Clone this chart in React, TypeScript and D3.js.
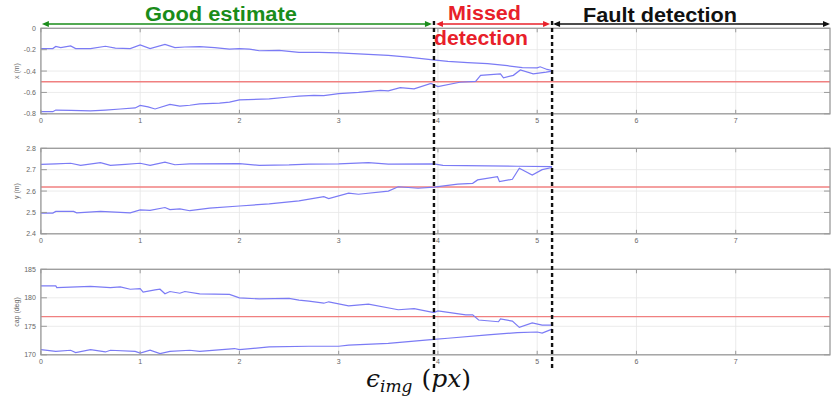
import React from "react";
import * as d3 from "d3";

// ---------- data ----------
const xTicks = [0, 1, 2, 3, 4, 5, 6, 7];
const xDomain: [number, number] = [0, 7.95];
const boundaries = [3.96, 5.15];

// panel 1: x (m)
const p1YTicks = [0, -0.2, -0.4, -0.6, -0.8];
const p1TickLabels = ["0", "-0.2", "-0.4", "-0.6", "-0.8"];
const p1Ref = -0.5;
const p1UpperX = [0, 0.12, 0.15, 0.2, 0.3, 0.35, 0.5, 0.65, 0.75, 0.9, 1.0, 1.1, 1.25, 1.35, 1.45, 1.6, 1.75, 1.9, 2.0, 2.1, 2.2, 2.4, 2.6, 2.8, 3.0, 3.2, 3.5, 3.7, 3.95, 4.1, 4.3, 4.5, 4.7, 4.85, 5.0, 5.03, 5.1, 5.15];
const p1UpperY = [-0.19, -0.19, -0.17, -0.18, -0.165, -0.19, -0.19, -0.168, -0.185, -0.19, -0.155, -0.19, -0.15, -0.18, -0.175, -0.172, -0.18, -0.195, -0.19, -0.195, -0.21, -0.207, -0.225, -0.225, -0.23, -0.24, -0.254, -0.27, -0.295, -0.31, -0.322, -0.33, -0.35, -0.368, -0.37, -0.36, -0.385, -0.395];
const p1LowerX = [0, 0.12, 0.15, 0.3, 0.5, 0.65, 0.8, 0.95, 1.0, 1.08, 1.15, 1.3, 1.4, 1.5, 1.6, 1.8, 1.9, 2.0, 2.3, 2.5, 2.6, 2.75, 2.85, 3.0, 3.2, 3.42, 3.5, 3.62, 3.76, 3.93, 4.0, 4.22, 4.38, 4.43, 4.63, 4.66, 4.76, 4.83, 4.96, 5.09, 5.15];
const p1LowerY = [-0.78, -0.78, -0.765, -0.768, -0.772, -0.765, -0.755, -0.745, -0.722, -0.735, -0.755, -0.712, -0.728, -0.72, -0.707, -0.7, -0.69, -0.67, -0.66, -0.643, -0.635, -0.627, -0.63, -0.612, -0.6, -0.58, -0.585, -0.555, -0.566, -0.515, -0.546, -0.505, -0.496, -0.44, -0.427, -0.464, -0.44, -0.39, -0.427, -0.41, -0.4];

// panel 2: y (m)
const p2YTicks = [2.8, 2.7, 2.6, 2.5, 2.4];
const p2TickLabels = ["2.8", "2.7", "2.6", "2.5", "2.4"];
const p2Ref = 2.619;
const p2UpperX = [0, 0.15, 0.3, 0.4, 0.6, 0.7, 0.85, 1.0, 1.1, 1.25, 1.35, 1.5, 2.0, 2.2, 2.5, 2.7, 3.0, 3.3, 3.5, 3.96, 4.05, 4.5, 4.8, 5.15];
const p2UpperY = [2.725, 2.727, 2.73, 2.72, 2.733, 2.72, 2.725, 2.73, 2.72, 2.735, 2.723, 2.727, 2.728, 2.72, 2.722, 2.726, 2.727, 2.733, 2.726, 2.727, 2.72, 2.718, 2.716, 2.714];
const p2LowerX = [0, 0.12, 0.15, 0.33, 0.36, 0.6, 0.9, 1.0, 1.1, 1.25, 1.3, 1.4, 1.5, 1.7, 2.0, 2.3, 2.6, 2.85, 2.9, 3.1, 3.2, 3.5, 3.6, 3.8, 3.96, 4.2, 4.35, 4.4, 4.6, 4.62, 4.75, 4.82, 4.95, 5.05, 5.15];
const p2LowerY = [2.497, 2.497, 2.505, 2.505, 2.498, 2.505, 2.498, 2.512, 2.51, 2.523, 2.513, 2.517, 2.508, 2.52, 2.53, 2.54, 2.554, 2.574, 2.565, 2.59, 2.585, 2.6, 2.62, 2.613, 2.618, 2.632, 2.636, 2.652, 2.667, 2.644, 2.655, 2.707, 2.675, 2.7, 2.71];

// panel 3: cap (deg)
const p3YTicks = [185, 180, 175, 170];
const p3TickLabels = ["185", "180", "175", "170"];
const p3Ref = 176.7;
const p3UpperX = [0, 0.15, 0.16, 0.5, 0.7, 0.8, 0.9, 1.0, 1.03, 1.15, 1.2, 1.25, 1.3, 1.4, 1.45, 1.6, 1.9, 2.0, 2.2, 2.5, 2.6, 2.7, 2.85, 2.9, 3.1, 3.3, 3.6, 3.76, 3.96, 4.0, 4.28, 4.35, 4.41, 4.61, 4.63, 4.75, 4.82, 4.95, 5.05, 5.15];
const p3UpperY = [182.1, 182.1, 181.8, 182.0, 181.8, 181.9, 181.5, 181.6, 181.0, 181.4, 181.5, 180.7, 181.1, 180.8, 181.1, 180.7, 180.6, 180.0, 179.8, 179.9, 179.6, 179.4, 179.05, 179.3, 178.6, 178.9, 177.9, 178.1, 177.4, 177.7, 177.0, 177.0, 176.1, 175.8, 176.3, 175.9, 174.8, 175.6, 175.2, 175.2];
const p3LowerX = [0, 0.15, 0.3, 0.35, 0.5, 0.65, 0.7, 0.95, 1.0, 1.1, 1.2, 1.3, 1.5, 1.6, 1.95, 2.0, 2.3, 2.7, 3.0, 3.1, 3.5, 3.96, 4.1, 4.5, 4.8, 5.0, 5.05, 5.15];
const p3LowerY = [170.9, 170.6, 170.8, 170.4, 170.9, 170.5, 170.8, 170.6, 170.3, 170.8, 170.2, 170.6, 170.8, 170.6, 171.1, 170.9, 171.4, 171.5, 171.5, 171.7, 172.0, 172.7, 172.9, 173.5, 173.9, 174.0, 173.8, 174.5];

const yLabels = ["x (m)", "y (m)", "cap (deg)"];
const regionLabels = ["Good estimate", "Missed", "detection", "Fault detection"];

// ---------- layout ----------
const W = 831;
const H = 398;
const left = 40.9;
const right = 830;
const panelTops = [28.3, 148.3, 269.3];
const panelH = 85.5;

const BLUE = "#7b7bf5";
const RED = "#f08080";
const GRID = "#e6e6e6";
const AXIS = "#9a9a9a";
const TICKTXT = "#666";

const x = d3.scaleLinear().domain(xDomain).range([left, right]);

type Panel = {
  ticks: number[];
  labels: string[];
  domain: [number, number];
  ref: number;
  series: { xs: number[]; ys: number[] }[];
  ylabel: string;
};

const panels: Panel[] = [
  { ticks: p1YTicks, labels: p1TickLabels, domain: [-0.8, 0], ref: p1Ref, series: [{ xs: p1UpperX, ys: p1UpperY }, { xs: p1LowerX, ys: p1LowerY }], ylabel: yLabels[0] },
  { ticks: p2YTicks, labels: p2TickLabels, domain: [2.4, 2.8], ref: p2Ref, series: [{ xs: p2UpperX, ys: p2UpperY }, { xs: p2LowerX, ys: p2LowerY }], ylabel: yLabels[1] },
  { ticks: p3YTicks, labels: p3TickLabels, domain: [170, 185], ref: p3Ref, series: [{ xs: p3UpperX, ys: p3UpperY }, { xs: p3LowerX, ys: p3LowerY }], ylabel: yLabels[2] },
];

function PanelView({ p, top }: { p: Panel; top: number }) {
  const y = d3.scaleLinear().domain(p.domain).range([top + panelH, top]);
  const bottom = top + panelH;
  const line = d3.line<[number, number]>().x((d) => x(d[0])).y((d) => y(d[1]));
  return (
    <g>
      {xTicks.map((t) => (
        <line key={"gx" + t} x1={x(t)} x2={x(t)} y1={top} y2={bottom} stroke={GRID} strokeWidth={0.8} />
      ))}
      {p.ticks.map((t) => (
        <line key={"gy" + t} x1={left} x2={right} y1={y(t)} y2={y(t)} stroke={GRID} strokeWidth={0.8} />
      ))}
      <line x1={left} x2={right} y1={y(p.ref)} y2={y(p.ref)} stroke={RED} strokeWidth={1.3} />
      {p.series.map((s, i) => (
        <path key={i} d={line(s.xs.map((v, j) => [v, s.ys[j]] as [number, number])) || ""} fill="none" stroke={BLUE} strokeWidth={1.2} />
      ))}
      <rect x={left} y={top} width={right - left} height={panelH} fill="none" stroke={AXIS} strokeWidth={1.3} />
      {xTicks.map((t) => (
        <g key={"tx" + t}>
          <line x1={x(t)} x2={x(t)} y1={bottom} y2={bottom - 4} stroke={AXIS} strokeWidth={1} />
          <line x1={x(t)} x2={x(t)} y1={top} y2={top + 4} stroke={AXIS} strokeWidth={1} />
          <text x={x(t)} y={bottom + 9} fontSize={7} fill={TICKTXT} textAnchor="middle" fontFamily="Liberation Sans, Arial, sans-serif">
            {String(t)}
          </text>
        </g>
      ))}
      {p.ticks.map((t, i) => (
        <g key={"ty" + t}>
          <line x1={left} x2={left + 6} y1={y(t)} y2={y(t)} stroke={AXIS} strokeWidth={1} />
          <line x1={right} x2={right - 6} y1={y(t)} y2={y(t)} stroke={AXIS} strokeWidth={1} />
          <text x={left - 5} y={y(t) + 2.5} fontSize={7} fill={TICKTXT} textAnchor="end" fontFamily="Liberation Sans, Arial, sans-serif">
            {p.labels[i]}
          </text>
        </g>
      ))}
      <text
        transform={`translate(19,${top + panelH / 2}) rotate(-90)`}
        fontSize={7}
        fill={TICKTXT}
        textAnchor="middle"
        fontFamily="Liberation Sans, Arial, sans-serif"
      >
        {p.ylabel}
      </text>
    </g>
  );
}

function Arrow({ x1, x2, yy, color }: { x1: number; x2: number; yy: number; color: string }) {
  const hw = 3;
  const hl = 7;
  return (
    <g>
      <line x1={x1 + 2} x2={x2 - 2} y1={yy} y2={yy} stroke={color} strokeWidth={1.6} />
      <polygon points={`${x1},${yy} ${x1 + hl},${yy - hw} ${x1 + hl},${yy + hw}`} fill={color} />
      <polygon points={`${x2},${yy} ${x2 - hl},${yy - hw} ${x2 - hl},${yy + hw}`} fill={color} />
    </g>
  );
}

export default function App() {
  const b1 = x(boundaries[0]);
  const b2 = x(boundaries[1]);
  const GREEN = "#1a8c1a";
  const RED2 = "#e8202a";
  const font = "Liberation Sans, Arial, Helvetica, sans-serif";
  return (
    <svg width={W} height={H} style={{ position: "absolute", left: 0, top: 0, background: "#fff" }}>
      <rect x={0} y={0} width={W} height={H} fill="#fff" />
      {panels.map((p, i) => (
        <PanelView key={i} p={p} top={panelTops[i]} />
      ))}
      <Arrow x1={left + 1} x2={b1 - 2} yy={24} color={GREEN} />
      <Arrow x1={b1 + 2} x2={b2 - 2} yy={24} color={RED2} />
      <Arrow x1={b2 + 1} x2={right} yy={24} color="#111" />
      {boundaries.map((b) => (
        <line key={b} x1={x(b)} x2={x(b)} y1={21} y2={368} stroke="#111" strokeWidth={2.4} strokeDasharray="4,3" />
      ))}
      <text x={221} y={21} fontSize={20} fontWeight="bold" fill={GREEN} textAnchor="middle" fontFamily={font} textLength={152} lengthAdjust="spacingAndGlyphs">
        {regionLabels[0]}
      </text>
      <text x={484.5} y={20} fontSize={20} fontWeight="bold" fill={RED2} textAnchor="middle" fontFamily={font} textLength={73} lengthAdjust="spacingAndGlyphs">
        {regionLabels[1]}
      </text>
      <text x={481} y={45} fontSize={20} fontWeight="bold" fill={RED2} textAnchor="middle" fontFamily={font} textLength={94} lengthAdjust="spacingAndGlyphs">
        {regionLabels[2]}
      </text>
      <text x={660} y={21.5} fontSize={20} fontWeight="bold" fill="#111" textAnchor="middle" fontFamily={font} textLength={154} lengthAdjust="spacingAndGlyphs">
        {regionLabels[3]}
      </text>
      <text x={366} y={387} fontSize={25} fontFamily="DejaVu Serif, Liberation Serif, serif" fill="#111">
        <tspan fontStyle="italic">ϵ</tspan>
        <tspan fontStyle="italic" fontSize={17} dy={5}>img</tspan>
        <tspan dy={-5} dx={9} fontStyle="normal">(</tspan>
        <tspan fontStyle="italic">px</tspan>
        <tspan fontStyle="normal">)</tspan>
      </text>
    </svg>
  );
}
